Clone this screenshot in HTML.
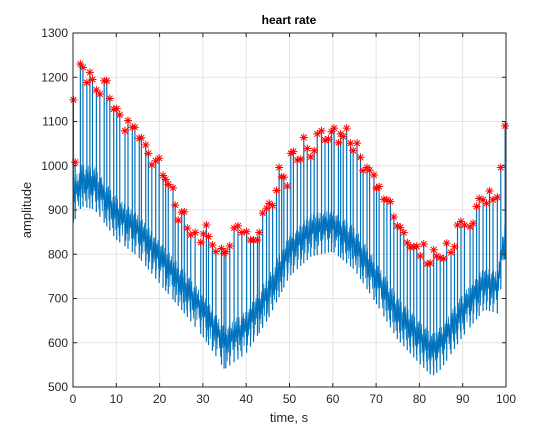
<!DOCTYPE html>
<html><head><meta charset="utf-8"><style>
html,body{margin:0;padding:0;background:#fff;}
svg{display:block;font-family:"Liberation Sans",sans-serif;}
</style></head><body>
<svg id="chart" width="559" height="435" viewBox="0 0 559 435" xmlns="http://www.w3.org/2000/svg">
<rect x="0" y="0" width="559" height="435" fill="#fff"/>
<g id="grid"></g>
<g id="signal"></g>
<g id="stars"></g>
<g id="axes"></g>
<text x="289" y="24" text-anchor="middle" font-size="12" font-weight="bold" fill="#000">heart rate</text>
<text x="289" y="422" text-anchor="middle" font-size="13" fill="#262626">time, s</text>
<text x="31" y="210" text-anchor="middle" font-size="13" fill="#262626" transform="rotate(-90 31 210)">amplitude</text>
</svg>
<script>
const xTicks=[0,10,20,30,40,50,60,70,80,90,100];
const yTicks=[500,600,700,800,900,1000,1100,1200,1300];
const peakT=[0.1,0.5,1.7,2.3,3.2,3.9,4.5,5.4,6.2,7.2,7.8,8.5,9.4,10.1,10.8,12,12.7,13.7,14.3,15.3,15.8,16.8,17.4,18.2,19.1,19.9,20.8,21.4,22,23.1,23.6,24.3,25.1,25.7,26.4,27.2,28.2,29.5,30.1,30.8,31.3,32.2,33,34.3,34.9,35.3,36.2,37.2,38.1,39,40.1,41,41.7,42.6,43,43.8,44.7,45.3,46.1,47,47.6,48.2,48.7,49.5,50.3,50.9,51.8,52.6,53.3,54.1,54.9,55.7,56.4,57.4,58.2,59,59.7,60.3,61.3,61.8,62.4,63.2,64.1,64.7,65.6,66.4,67,67.9,68.5,69.5,70.1,70.7,71.8,72.5,73.3,74.1,74.9,75.6,76.4,77.2,77.9,78.7,79.4,80.2,81,81.8,82.5,83.3,84,84.8,85.6,86.3,87.3,88.1,88.8,89.6,90.4,91.7,92.4,93.2,93.8,94.7,95.5,96.2,97,98,98.8,99.8];
const peakV=[1149,1008,1230,1222,1188,1211,1195,1171,1162,1192,1192,1152,1128,1129,1115,1079,1102,1087,1087,1062,1063,1047,1028,1002,1011,1017,978,969,958,950,911,877,895,896,859,844,849,827,846,866,840,821,806,813,802,806,819,859,864,849,851,832,832,832,849,893,904,915,910,944,996,975,974,954,1028,1032,1013,1015,1064,1039,1020,1034,1072,1079,1058,1060,1077,1085,1052,1072,1066,1085,1051,1034,1051,1019,989,996,990,979,949,953,924,923,919,884,864,861,849,826,816,817,818,796,823,778,780,810,796,792,790,825,804,817,866,874,866,862,870,908,926,923,915,943,923,929,996,1090];
const bandT=[0,2,5,10,15,20,25,30,35,40,45,50,55,60,65,70,75,80,83,85,90,95,98,100];
const bandV=[930,968,961,893,855,794,735,674,600,636,712,810,855,866,825,749,667,613,584,600,674,735,726,862];

const X0=73,X1=506,Y0=387,Y1=33;
const xs=t=>X0+(t-0)/(100-0)*(X1-X0);
const ys=v=>Y0-(v-500)/(1300-500)*(Y0-Y1);
const NS='http://www.w3.org/2000/svg';
function mk(tag,attrs,parent){const e=document.createElementNS(NS,tag);for(const k in attrs)e.setAttribute(k,attrs[k]);parent.appendChild(e);return e;}
function band(t){for(let i=0;i<bandT.length-1;i++){if(t<=bandT[i+1]){const f=(t-bandT[i])/(bandT[i+1]-bandT[i]);return bandV[i]+f*(bandV[i+1]-bandV[i]);}}return bandV[bandV.length-1];}

const grid=document.getElementById('grid');
xTicks.forEach(t=>{const l=mk('line',{x1:xs(t),x2:xs(t),y1:Y1,y2:Y0,stroke:'#e3e3e3','stroke-width':1},grid);

});
yTicks.forEach(v=>{const l=mk('line',{x1:X0,x2:X1,y1:ys(v),y2:ys(v),stroke:'#e3e3e3','stroke-width':1},grid);

});

const sig=document.getElementById('signal');
let pts=[];let k=0;
const offs=[-28,30,-18,36,-40,22,-10,34,-30,14,-46,26];
for(let t=0;t<=100.001;t+=0.13){const c=band(t);const off=offs[k%offs.length];pts.push(xs(t).toFixed(2)+','+ys(c+off).toFixed(2));k++;}
const pl=mk('polyline',{points:pts.join(' '),fill:'none',stroke:'#0072BD','stroke-width':0.7},sig);


peakT.forEach((t,i)=>{const c=band(t);const l=mk('line',{x1:xs(t),x2:xs(t),y1:ys(c-60),y2:ys(peakV[i]),stroke:'#0072BD','stroke-width':1.2},sig);

});

const st=document.getElementById('stars');
peakT.forEach((t,i)=>{const cx=xs(t),cy=ys(peakV[i]),r=4;
const g=mk('g',{stroke:'#ff0000','stroke-width':1},st);


mk('line',{x1:cx-r,x2:cx+r,y1:cy,y2:cy},g);mk('line',{x1:cx,x2:cx,y1:cy-r,y2:cy+r},g);
mk('line',{x1:cx-r*0.7,x2:cx+r*0.7,y1:cy-r*0.7,y2:cy+r*0.7},g);mk('line',{x1:cx-r*0.7,x2:cx+r*0.7,y1:cy+r*0.7,y2:cy-r*0.7},g);});

const ax=document.getElementById('axes');
const box=mk('rect',{x:X0,y:Y1,width:X1-X0,height:Y0-Y1,fill:'none',stroke:'#262626','stroke-width':1},ax);


xTicks.forEach(t=>{mk('line',{x1:xs(t),x2:xs(t),y1:Y0,y2:Y0-4,stroke:'#262626'},ax);mk('line',{x1:xs(t),x2:xs(t),y1:Y1,y2:Y1+4,stroke:'#262626'},ax);
const tx=mk('text',{x:xs(t),y:Y0+16,'text-anchor':'middle','font-size':12,fill:'#262626'},ax);tx.textContent=t;

});
yTicks.forEach(v=>{mk('line',{x1:X0,x2:X0+4,y1:ys(v),y2:ys(v),stroke:'#262626'},ax);mk('line',{x1:X1,x2:X1-4,y1:ys(v),y2:ys(v),stroke:'#262626'},ax);
const tx=mk('text',{x:X0-5,y:ys(v)+4,'text-anchor':'end','font-size':12,fill:'#262626'},ax);tx.textContent=v;

});
</script>
</body></html>
